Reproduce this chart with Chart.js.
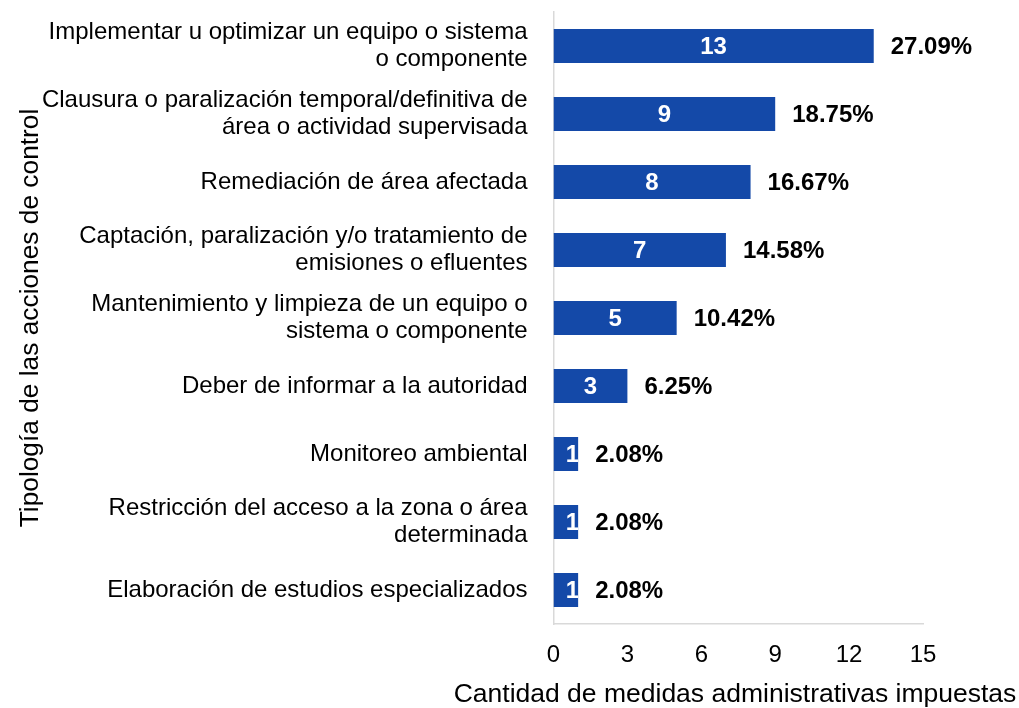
<!DOCTYPE html>
<html>
<head>
<meta charset="utf-8">
<script src="https://cdn.jsdelivr.net/npm/chart.js@4"></script>
<style>
  body { margin: 0; background: #fff; }
  #wrap { width: 1019px; height: 708px; position: relative; }
</style>
</head>
<body>
<div id="wrap"><canvas id="chart"></canvas></div>
<script>
// categories (multi-line where the original wraps)
const categories = [
    ['Implementar u optimizar un equipo o sistema', 'o componente'],
    ['Clausura o paralización temporal/definitiva de', 'área o actividad supervisada'],
    'Remediación de área afectada',
    ['Captación, paralización y/o tratamiento de', 'emisiones o efluentes'],
    ['Mantenimiento y limpieza de un equipo o', 'sistema o componente'],
    'Deber de informar a la autoridad',
    'Monitoreo ambiental',
    ['Restricción del acceso a la zona o área', 'determinada'],
    'Elaboración de estudios especializados'
];
const counts = [13, 9, 8, 7, 5, 3, 1, 1, 1];
const percents = ['27.09%', '18.75%', '16.67%', '14.58%', '10.42%', '6.25%', '2.08%', '2.08%', '2.08%'];
const xTicks = [0, 3, 6, 9, 12, 15];
const xTitle = 'Cantidad de medidas administrativas impuestas';

const FONT = "'Liberation Sans', Arial, sans-serif";

// labels: count inside bar, percentage after the bar
const barLabels = {
    id: 'barLabels',
    afterDatasetsDraw(chart) {
        const ctx = chart.ctx;
        const meta = chart.getDatasetMeta(0);
        meta.data.forEach(function(bar, i) {
            const left = Math.min(bar.base, bar.x);
            const w = Math.abs(bar.x - bar.base);
            const top = bar.y - bar.height / 2;
            ctx.save();
            ctx.font = 'bold 24px ' + FONT;
            ctx.textBaseline = 'middle';
            // count, clipped to the bar
            ctx.beginPath();
            ctx.rect(left, top, w, bar.height);
            ctx.clip();
            ctx.fillStyle = '#ffffff';
            ctx.textAlign = 'center';
            ctx.fillText(counts[i], left + Math.max(w / 2, 19), bar.y + 1);
            ctx.restore();

            ctx.save();
            ctx.font = 'bold 24px ' + FONT;
            ctx.textBaseline = 'middle';
            ctx.fillStyle = '#000000';
            ctx.textAlign = 'left';
            ctx.fillText(percents[i], bar.x + 17, bar.y + 1);
            ctx.restore();
        });
    },
    // x title drawn here so it is not squeezed to the plot width
    afterDraw(chart) {
        const ctx = chart.ctx;
        const area = chart.chartArea;
        ctx.save();
        ctx.font = '26.5px ' + FONT;
        ctx.fillStyle = '#000';
        ctx.textAlign = 'center';
        ctx.textBaseline = 'middle';
        ctx.fillText(xTitle, 735, 695);
        ctx.restore();
    }
};

new Chart(document.getElementById('chart'), {
    type: 'bar',
    data: {
        labels: categories,
        datasets: [{
            data: counts,
            backgroundColor: '#1449a8',
            borderWidth: 0,
            barPercentage: 0.5,
            categoryPercentage: 1.0
        }]
    },
    options: {
        indexAxis: 'y',
        responsive: true,
        maintainAspectRatio: false,
        animation: false,
        layout: {
            padding: { top: 12, right: 96, left: 13, bottom: 0 }
        },
        plugins: {
            legend: { display: false },
            tooltip: { enabled: false }
        },
        scales: {
            x: {
                min: 0,
                max: 15,
                afterBuildTicks: function(scale) {
                    scale.ticks = xTicks.map(v => ({ value: v }));
                },
                afterFit: function(scale) {
                    scale.height = 84;
                    scale.paddingLeft = 0;
                    scale.paddingRight = 0;
                },
                grid: { display: false, drawTicks: false },
                border: { display: true, color: '#d9d9d9', width: 1.5 },
                ticks: {
                    color: '#000',
                    padding: 17,
                    font: { family: FONT, size: 24 }
                }
            },
            y: {
                afterFit: function(scale) {
                    scale.width = 540.5;
                    scale.paddingTop = 0;
                    scale.paddingBottom = 0;
                },
                grid: { display: false, drawTicks: false },
                border: { display: true, color: '#d9d9d9', width: 1.5 },
                ticks: {
                    color: '#000',
                    padding: 26,
                    font: { family: FONT, size: 24, lineHeight: 1.13 }
                },
                title: {
                    display: true,
                    text: 'Tipología de las acciones de control',
                    color: '#000',
                    padding: { top: 2, bottom: 0 },
                    font: { family: FONT, size: 26.3 }
                }
            }
        }
    },
    plugins: [barLabels]
});
</script>
</body>
</html>
